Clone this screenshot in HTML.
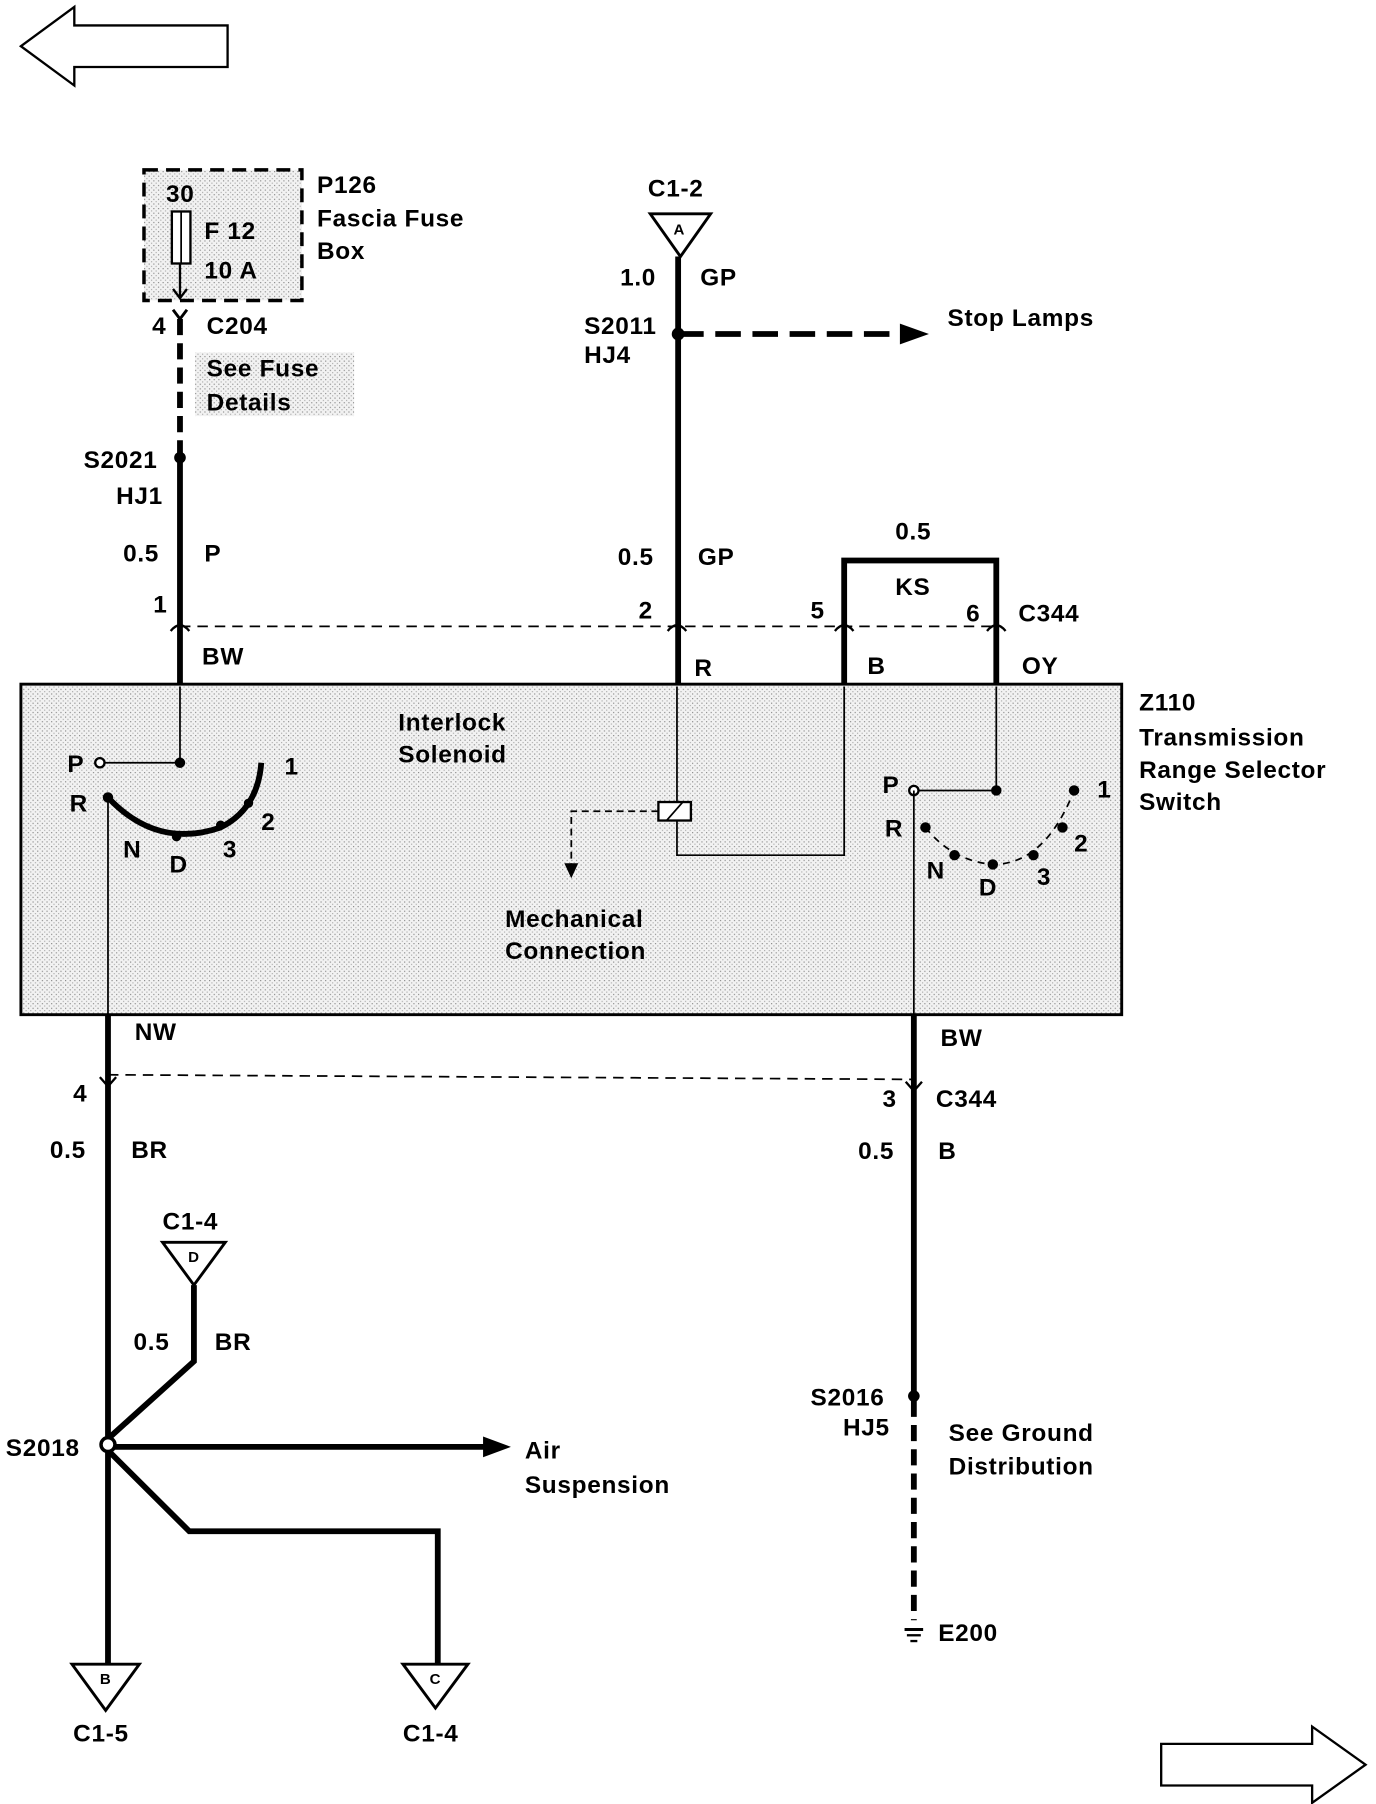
<!DOCTYPE html>
<html><head><meta charset="utf-8"><style>
html,body{margin:0;padding:0;background:#fff}
svg{display:block}
text{font-family:"Liberation Sans",sans-serif;font-weight:bold;font-size:21px;letter-spacing:0.6px;fill:#000}
</style></head><body>
<svg width="1376" height="1804" viewBox="0 0 1185 1561" preserveAspectRatio="none" xmlns="http://www.w3.org/2000/svg">
<defs>
<pattern id="dots" width="4" height="4" patternUnits="userSpaceOnUse">
<rect width="4" height="4" fill="#f2f2f2"/><rect x="0" y="0" width="1" height="1" fill="#888"/><rect x="2" y="2" width="1" height="1" fill="#aaa"/>
</pattern>
</defs>
<polygon points="18,40 64,6 64,22 196,22 196,58 64,58 64,74" fill="#fff" stroke="#000" stroke-width="2"/>
<polygon points="1176,1527 1130,1494 1130,1509 1000,1509 1000,1545 1130,1545 1130,1560" fill="#fff" stroke="#000" stroke-width="2"/>

<rect x="124" y="147" width="136" height="113" fill="url(#dots)" stroke="#000" stroke-width="3" stroke-dasharray="12,7"/>
<rect x="148" y="183" width="16" height="45" fill="#fff" stroke="#000" stroke-width="2"/>
<line x1="156" y1="183" x2="156" y2="228" stroke="#000" stroke-width="1.5"/>
<line x1="155" y1="228" x2="155" y2="258" stroke="#000" stroke-width="2"/>
<polyline points="149,250 155,258 161,250" fill="none" stroke="#000" stroke-width="2"/>
<text x="143" y="175">30</text><text x="176" y="207">F 12</text><text x="176" y="241">10 A</text>
<text x="273" y="167">P126</text><text x="273" y="196">Fascia Fuse</text><text x="273" y="224">Box</text>
<text x="131" y="289">4</text><text x="178" y="289">C204</text>
<polyline points="149,268 155,276 161,268" fill="none" stroke="#000" stroke-width="2.5"/>
<rect x="168" y="305" width="137" height="55" fill="url(#dots)"/>
<text x="178" y="326">See Fuse</text><text x="178" y="355">Details</text>
<line x1="155" y1="276" x2="155" y2="392" stroke="#000" stroke-width="5" stroke-dasharray="14,7"/>
<line x1="155" y1="396" x2="155" y2="594" stroke="#000" stroke-width="5"/>
<circle cx="155" cy="396" r="5" fill="#000"/>
<text x="72" y="405">S2021</text><text x="100" y="436">HJ1</text>
<text x="106" y="486">0.5</text><text x="176" y="486">P</text>
<text x="132" y="530">1</text>
<text x="174" y="575">BW</text>

<line x1="155" y1="542" x2="858" y2="542" stroke="#000" stroke-width="1.5" stroke-dasharray="9,6"/>
<g fill="none" stroke="#000" stroke-width="2">
<path d="M147,546 Q155,536 163,546"/><path d="M575,546 Q583,536 591,546"/><path d="M719,546 Q727,536 735,546"/><path d="M850,546 Q858,536 866,546"/>
</g>

<polygon points="560,185 612,185 586,222" fill="#fff" stroke="#000" stroke-width="2.5"/>
<text x="580" y="203" style="font-size:13px">A</text>
<text x="558" y="170">C1-2</text>
<text x="534" y="247">1.0</text><text x="603" y="247">GP</text>
<line x1="584" y1="222" x2="584" y2="594" stroke="#000" stroke-width="5"/>
<circle cx="584" cy="289" r="5.5" fill="#000"/>
<line x1="584" y1="289" x2="775" y2="289" stroke="#000" stroke-width="5" stroke-dasharray="22,10"/>
<polygon points="775,280 800,289 775,298" fill="#000"/>
<text x="503" y="289">S2011</text><text x="503" y="314">HJ4</text>
<text x="816" y="282">Stop Lamps</text>
<text x="532" y="489">0.5</text><text x="601" y="489">GP</text>
<text x="550" y="535">2</text><text x="598" y="585">R</text>

<polyline points="727,594 727,485 858,485 858,594" fill="none" stroke="#000" stroke-width="5"/>
<text x="771" y="467">0.5</text><text x="771" y="515">KS</text>
<text x="698" y="535">5</text><text x="832" y="538">6</text><text x="877" y="538">C344</text>
<text x="747" y="583">B</text><text x="880" y="583">OY</text>

<rect x="18" y="592" width="948" height="286" fill="url(#dots)" stroke="#000" stroke-width="2.5"/>
<text x="343" y="632">Interlock</text><text x="343" y="660">Solenoid</text>
<text x="435" y="802">Mechanical</text><text x="435" y="830">Connection</text>
<text x="981" y="615">Z110</text><text x="981" y="645">Transmission</text><text x="981" y="673">Range Selector</text><text x="981" y="701">Switch</text>

<line x1="155" y1="594" x2="155" y2="660" stroke="#000" stroke-width="1.5"/>
<line x1="86" y1="660" x2="155" y2="660" stroke="#000" stroke-width="1.5"/>
<circle cx="155" cy="660" r="4.5" fill="#000"/>
<circle cx="86" cy="660" r="4" fill="#fff" stroke="#000" stroke-width="2"/>
<path d="M93,690 Q135,735 190,716 Q222,700 225,660" fill="none" stroke="#000" stroke-width="5"/>
<circle cx="93" cy="690" r="4.5" fill="#000"/><circle cx="152" cy="724" r="4" fill="#000"/><circle cx="190" cy="714" r="4" fill="#000"/><circle cx="214" cy="695" r="4" fill="#000"/>
<text x="58" y="668">P</text><text x="60" y="702">R</text><text x="245" y="670">1</text><text x="225" y="718">2</text><text x="192" y="742">3</text><text x="146" y="755">D</text><text x="106" y="742">N</text>
<line x1="93" y1="690" x2="93" y2="878" stroke="#000" stroke-width="1.5"/>

<polyline points="583,594 583,740 727,740 727,594" fill="none" stroke="#000" stroke-width="1.5"/>
<rect x="567" y="694" width="28" height="16" fill="#fff" stroke="#000" stroke-width="2"/>
<line x1="574" y1="710" x2="588" y2="694" stroke="#000" stroke-width="1.5"/>
<polyline points="567,702 492,702 492,750" fill="none" stroke="#000" stroke-width="1.5" stroke-dasharray="6,4"/>
<polygon points="486,747 492,760 498,747" fill="#000"/>

<line x1="858" y1="594" x2="858" y2="684" stroke="#000" stroke-width="1.5"/>
<line x1="787" y1="684" x2="858" y2="684" stroke="#000" stroke-width="1.5"/>
<circle cx="858" cy="684" r="4.5" fill="#000"/>
<circle cx="787" cy="684" r="4" fill="#fff" stroke="#000" stroke-width="2"/>
<path d="M797,716 Q820,745 855,748 Q900,748 925,684" fill="none" stroke="#000" stroke-width="1.5" stroke-dasharray="6,5"/>
<circle cx="797" cy="716" r="4.5" fill="#000"/><circle cx="822" cy="740" r="4.5" fill="#000"/><circle cx="855" cy="748" r="4.5" fill="#000"/><circle cx="890" cy="740" r="4.5" fill="#000"/><circle cx="915" cy="716" r="4.5" fill="#000"/><circle cx="925" cy="684" r="4.5" fill="#000"/>
<text x="760" y="686">P</text><text x="762" y="724">R</text><text x="945" y="690">1</text><text x="925" y="737">2</text><text x="893" y="766">3</text><text x="843" y="775">D</text><text x="798" y="760">N</text>
<line x1="787" y1="684" x2="787" y2="878" stroke="#000" stroke-width="1.5"/>

<line x1="93" y1="930" x2="787" y2="934" stroke="#000" stroke-width="1.5" stroke-dasharray="9,6"/>
<polyline points="86,932 93,940 100,932" fill="none" stroke="#000" stroke-width="2"/>
<polyline points="780,936 787,944 794,936" fill="none" stroke="#000" stroke-width="2"/>

<line x1="93" y1="878" x2="93" y2="1442" stroke="#000" stroke-width="5"/>
<text x="116" y="900">NW</text><text x="63" y="953">4</text>
<text x="43" y="1002">0.5</text><text x="113" y="1002">BR</text>
<polygon points="140,1075 194,1075 167,1112" fill="#fff" stroke="#000" stroke-width="2.5"/>
<text x="162" y="1092" style="font-size:13px">D</text>
<text x="140" y="1064">C1-4</text>
<polyline points="167,1112 167,1178 93,1245" fill="none" stroke="#000" stroke-width="5"/>
<text x="115" y="1168">0.5</text><text x="185" y="1168">BR</text>
<line x1="93" y1="1252" x2="418" y2="1252" stroke="#000" stroke-width="5"/>
<polygon points="416,1243 440,1252 416,1261" fill="#000"/>
<polyline points="93,1255 163,1325 377,1325 377,1442" fill="none" stroke="#000" stroke-width="5"/>
<circle cx="93" cy="1250" r="6" fill="#fff" stroke="#000" stroke-width="3"/>
<text x="5" y="1260">S2018</text>
<text x="452" y="1262">Air</text><text x="452" y="1292">Suspension</text>
<polygon points="62,1440 120,1440 91,1480" fill="#fff" stroke="#000" stroke-width="2.5"/>
<text x="86" y="1457" style="font-size:13px">B</text>
<text x="63" y="1507">C1-5</text>
<polygon points="347,1440 403,1440 375,1478" fill="#fff" stroke="#000" stroke-width="2.5"/>
<text x="370" y="1457" style="font-size:13px">C</text>
<text x="347" y="1507">C1-4</text>

<line x1="787" y1="878" x2="787" y2="1204" stroke="#000" stroke-width="5"/>
<line x1="787" y1="1212" x2="787" y2="1402" stroke="#000" stroke-width="5" stroke-dasharray="14,7"/>
<circle cx="787" cy="1208" r="5" fill="#000"/>
<text x="810" y="905">BW</text><text x="760" y="958">3</text><text x="806" y="958">C344</text>
<text x="739" y="1003">0.5</text><text x="808" y="1003">B</text>
<text x="698" y="1216">S2016</text><text x="726" y="1242">HJ5</text>
<text x="817" y="1247">See Ground</text><text x="817" y="1276">Distribution</text>
<line x1="779" y1="1410" x2="795" y2="1410" stroke="#000" stroke-width="2.5"/>
<line x1="781" y1="1415" x2="793" y2="1415" stroke="#000" stroke-width="2"/>
<line x1="784" y1="1420" x2="790" y2="1420" stroke="#000" stroke-width="2"/>
<text x="808" y="1420">E200</text>
</svg>
</body></html>
